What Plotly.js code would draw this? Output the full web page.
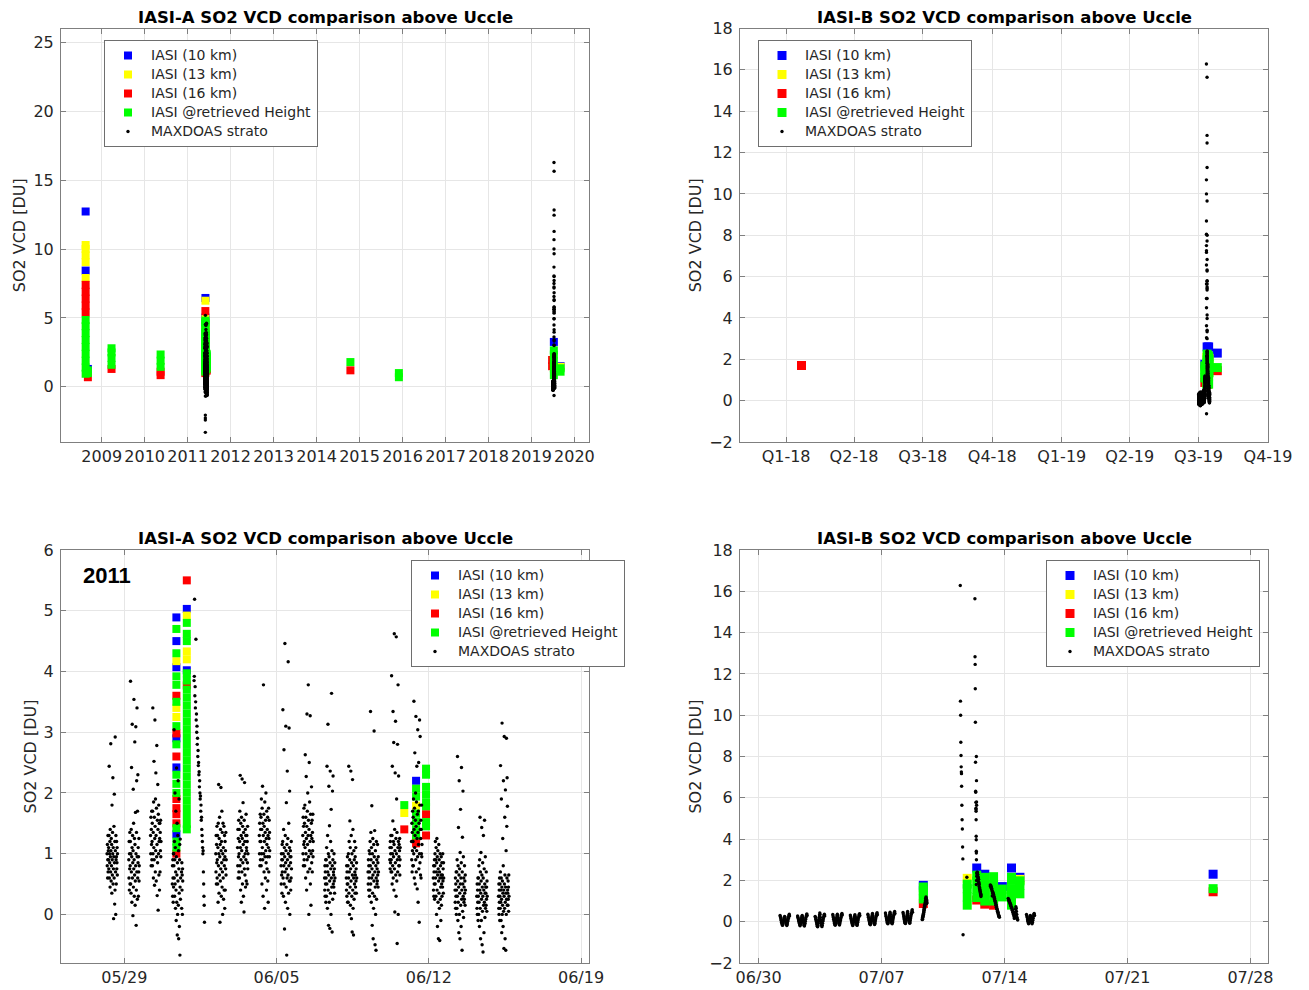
<!DOCTYPE html>
<html><head><meta charset="utf-8">
<script src="https://cdn.plot.ly/plotly-3.0.1.min.js"></script>
<style>html,body{margin:0;padding:0;background:#fff}#chart{width:1309px;height:990px}</style>
</head><body><div id="chart"></div>
<script>
// ================= DATA =================
const seriesNames = ['IASI (10 km)', 'IASI (13 km)', 'IASI (16 km)', 'IASI @retrieved Height', 'MAXDOAS strato'];
const titleA = 'IASI-A SO2 VCD comparison above Uccle';
const titleB = 'IASI-B SO2 VCD comparison above Uccle';
const yTitle = 'SO2 VCD [DU]';
const zoomYearLabel = '2011';

// x tick labels
const yearTicks = ['2009-01-01','2010-01-01','2011-01-01','2012-01-01','2013-01-01','2014-01-01','2015-01-01','2016-01-01','2017-01-01','2018-01-01','2019-01-01','2020-01-01'];
const yearLabels = ['2009','2010','2011','2012','2013','2014','2015','2016','2017','2018','2019','2020'];
const quarterTicks = ['2018-01-01','2018-04-01','2018-07-01','2018-10-01','2019-01-01','2019-04-01','2019-07-01','2019-10-01'];
const quarterLabels = ['Q1-18','Q2-18','Q3-18','Q4-18','Q1-19','Q2-19','Q3-19','Q4-19'];
const ticks2011 = ['2011-05-29','2011-06-05','2011-06-12','2011-06-19'];
const labels2011 = ['05/29','06/05','06/12','06/19'];
const ticks2019 = ['2019-06-30','2019-07-07','2019-07-14','2019-07-21','2019-07-28'];
const labels2019 = ['06/30','07/07','07/14','07/21','07/28'];

// IASI-A overpasses: [time, SO2 VCD values]
const iasiA_10km = [
  ['2008-08-17 09:30', [12.73, 8.44]],
  ['2008-09-05 09:30', [1.3]],
  ['2011-05-31 09:30', [4.89, 4.5, 4.07, 2.9, 2.42, 1.32]],
  ['2011-05-31 21:00', [5.03, 4.02]],
  ['2011-06-01 09:30', [6.45]],
  ['2011-06-11 10:00', [2.2]],
  ['2019-07-10 09:30', [3.26]],
  ['2019-09-05 09:30', [1.5]]
];
const iasiA_13km = [
  ['2008-08-17 09:30', [10.3, 10.0, 9.55, 9.05, 7.9]],
  ['2011-05-31 09:30', [4.17, 3.4, 3.25]],
  ['2011-05-31 21:00', [4.92, 4.33, 4.2]],
  ['2011-06-01 09:30', [6.25]],
  ['2011-06-10 21:00', [1.67]],
  ['2011-06-11 10:00', [1.79]],
  ['2019-09-05 09:30', [1.45]]
];
const iasiA_16km = [
  ['2008-08-17 09:30', [7.4, 6.9, 6.4, 5.9, 5.4]],
  ['2008-09-05 09:30', [0.7]],
  ['2009-03-25 09:30', [1.3]],
  ['2010-05-16 09:30', [0.85, 1.1]],
  ['2011-05-31 09:30', [3.6, 2.98, 2.6, 1.9, 1.75, 1.65, 1.5, 1.0]],
  ['2011-05-31 21:00', [5.5, 3.77]],
  ['2011-06-10 21:00', [1.4]],
  ['2011-06-11 10:00', [1.25, 1.17]],
  ['2011-06-11 21:00', [1.65, 1.3]],
  ['2014-10-15 09:30', [1.2]],
  ['2019-06-25 09:30', [1.5, 1.95]]
];
const iasiA_retrieved = [
  ['2008-08-17 09:30', [4.85, 4.4, 3.9, 3.4, 2.9, 2.4, 1.9, 1.4, 0.95]],
  ['2008-09-05 09:30', [1.2, 1.0]],
  ['2009-03-25 09:30', [1.6, 2.1, 2.5, 2.8]],
  ['2010-05-16 09:30', [1.45, 1.9, 2.35]],
  ['2011-05-31 09:30', [4.7, 4.3, 3.92, 3.78, 3.5, 3.1, 2.8, 2.3, 2.15, 2.0, 1.42, 1.2, 1.1]],
  ['2011-05-31 21:00', [4.8, 4.62, 4.5, 3.97, 3.85, 3.7, 3.57, 3.44, 3.31, 3.18, 3.05, 2.92, 2.79, 2.66, 2.53, 2.4, 2.27, 2.14, 2.01, 1.88, 1.75, 1.62, 1.49, 1.4]],
  ['2011-06-10 21:00', [1.8]],
  ['2011-06-11 10:00', [2.07, 1.94, 1.66, 1.53, 1.4, 1.3]],
  ['2011-06-11 21:00', [2.4, 2.3, 2.1, 1.97, 1.84, 1.78, 1.52, 1.45]],
  ['2014-10-15 09:30', [1.8]],
  ['2015-12-01 09:30', [0.7, 1.0]],
  ['2019-07-10 09:30', [2.65, 2.35, 1.85, 1.35, 0.85]],
  ['2019-09-05 09:30', [1.35, 1.1]]
];

// IASI-B overpasses
const iasiB_10km = [
  ['2019-07-09 09:00', [1.76]],
  ['2019-07-12 10:00', [2.6]],
  ['2019-07-12 21:00', [2.3]],
  ['2019-07-13 21:00', [1.7]],
  ['2019-07-14 09:30', [2.6]],
  ['2019-07-14 21:00', [2.15]],
  ['2019-07-25 21:00', [2.3]]
];
const iasiB_13km = [
  ['2019-07-11 21:00', [2.1]],
  ['2019-07-14 21:00', [2.05]]
];
const iasiB_16km = [
  ['2018-01-21 09:30', [1.7]],
  ['2019-07-09 09:00', [0.88]],
  ['2019-07-12 10:00', [1.05]],
  ['2019-07-12 21:00', [0.85]],
  ['2019-07-13 09:00', [0.8]],
  ['2019-07-25 21:00', [1.45]]
];
const iasiB_retrieved = [
  ['2019-07-09 09:00', [1.1, 1.3, 1.5, 1.68]],
  ['2019-07-11 21:00', [0.8, 1.2, 1.6, 1.82]],
  ['2019-07-12 10:00', [1.17, 1.57, 1.97, 2.25]],
  ['2019-07-12 21:00', [1.0, 1.4, 1.8, 2.15]],
  ['2019-07-13 09:00', [1.0, 1.4, 1.8, 2.18]],
  ['2019-07-13 21:00', [1.2, 1.58]],
  ['2019-07-14 09:30', [0.8, 1.2, 1.6, 2.0, 2.15]],
  ['2019-07-14 21:00', [1.35, 1.75, 1.98]],
  ['2019-07-25 21:00', [1.6]]
];

// MAXDOAS stratospheric SO2, 2011: one list of readings per day (measured between the given UTC hours)
const doas2011Days = ['2011-05-28','2011-05-29','2011-05-30','2011-05-31','2011-06-01','2011-06-02','2011-06-03','2011-06-04','2011-06-05','2011-06-06','2011-06-07','2011-06-08','2011-06-09','2011-06-10','2011-06-11','2011-06-12','2011-06-13','2011-06-14','2011-06-15'];
const doas2011Start = [5,5,5,5,5,5,5,5,5,5,5,5,5,5,5,5,5,5,5];
const doas2011End = [16.5,16.5,16.5,16.5,16.5,16.5,16.5,16.5,16.5,16.5,16.5,16.5,16.5,16.5,16.5,16.5,16.5,16.5,16.5];
const doas2011Values = [
  [1.0,0.8,1.15,0.6,0.9,1.3,0.7,1.05,0.9,1.1,0.75,1.3,2.44,0.6,1.0,0.85,1.2,0.45,1.4,0.95,0.7,2.81,1.05,0.55,1.25,0.8,1.15,0.35,1.8,0.9,0.65,1.35,1.0,2.25,0.5,1.1,0.75,-0.07,0.95,1.45,0.6,1.98,0.85,0.17,1.2,0.4,2.92,1.05,0.7,0.0,1.3,0.9,0.5,0.95,1.2,0.75,0.85,1.1,0.65,1.0],
  [0.9,0.6,1.2,0.4,1.0,0.75,1.35,0.5,0.8,1.2,3.84,0.5,1.0,0.35,1.4,0.7,2.42,0.95,0.2,1.1,3.13,0.6,1.3,0.85,-0.02,1.05,2.06,0.45,1.5,0.75,3.54,0.9,0.3,1.25,0.65,2.84,1.15,0.15,0.55,1.68,0.8,3.09,1.0,-0.18,0.4,1.35,2.2,0.7,3.4,0.95,0.25,1.7,0.6,2.3,0.85,1.1,0.3,0.95,0.7,1.25,0.55,0.8],
  [1.3,1.0,1.6,0.8,1.4,1.15,1.7,0.9,1.2,1.5,0.8,1.7,3.4,1.0,1.35,0.6,1.85,1.1,2.52,0.9,1.6,0.48,1.25,3.2,1.45,0.7,1.9,1.05,2.33,1.3,0.55,1.75,0.95,2.78,1.15,0.31,1.55,0.85,2.14,1.4,0.07,1.65,1.0,1.8,0.65,1.2,1.5,0.4,1.25,1.5,0.7,1.35,1.05,1.55,0.95,1.2],
  [0.5,0.8,0.3,0.9,0.6,0.2,1.0,0.45,1.0,0.8,3.04,0.6,1.2,0.3,0.9,2.0,0.5,1.1,0.1,0.7,1.7,0.4,-0.1,0.95,2.41,0.2,0.65,1.5,-0.34,0.85,0.0,1.3,0.55,2.2,0.15,1.05,-0.4,0.75,1.9,0.35,-0.2,0.9,1.15,-0.67,0.45,1.24,0.25,0.6,-2.05,-2.25,-2.4,-3.3,0.7,0.1,0.85,0.4,0.65,0.0,0.75,0.55],
  [3.85,3.92,5.19,3.6,3.75,3.4,3.5,4.53,3.2,3.3,3.0,3.1,2.8,2.9,2.6,2.7,2.45,2.5,2.3,2.35,2.1,2.2,2.0,1.9,1.95,1.7,1.8,1.55,1.6,1.4,1.3,1.2,1.1,1.0,1.05,0.7,0.5,0.3,0.15,-0.13],
  [1.0,0.7,1.3,0.5,1.15,0.85,1.45,0.6,0.9,1.3,0.5,1.1,0.2,1.5,0.8,2.14,1.0,0.35,1.25,0.65,1.6,0.95,-0.13,1.15,0.55,1.4,0.75,2.09,1.05,0.3,1.2,0.85,1.7,0.45,1.35,0.7,0.0,1.0,1.5,0.6,1.1,0.25,0.9,1.45,0.4,0.8,1.3,0.1,0.95,1.2,0.4,1.05,0.75,1.35,0.65,0.9],
  [1.1,0.8,1.4,0.6,1.25,0.95,1.55,0.7,1.0,1.4,0.6,1.2,1.7,0.8,2.29,1.1,0.4,1.5,0.9,1.3,0.2,1.6,1.05,0.7,2.23,1.25,0.5,1.45,0.85,1.84,1.15,0.3,1.35,0.95,0.04,1.55,0.75,2.17,1.2,0.65,1.0,1.4,0.45,1.3,0.9,1.65,0.55,1.1,1.05,1.3,0.5,1.2,0.85,1.45,0.75,1.0],
  [1.3,1.0,1.5,0.8,1.2,1.65,0.9,1.4,1.2,1.6,0.8,1.9,1.0,1.4,0.5,1.75,1.1,2.11,0.9,1.5,0.3,1.3,3.78,1.0,1.65,0.7,1.45,1.2,0.1,1.85,0.95,1.35,0.6,1.55,1.05,2.0,0.85,1.25,0.4,1.7,1.15,0.75,1.4,0.95,1.6,0.55,1.3,0.2,1.1,1.75,0.7,1.25,1.55,0.95,1.35,1.05],
  [0.8,0.5,1.0,0.65,0.9,0.35,1.15,0.7,0.9,1.2,3.37,0.6,1.0,0.3,1.4,0.8,2.71,0.5,1.1,-0.24,0.95,4.46,0.7,1.3,0.2,0.85,3.1,1.05,0.45,1.84,0.75,-0.67,1.15,0.6,2.36,0.9,0.1,1.25,0.65,4.16,1.0,0.35,1.5,0.8,3.07,0.55,1.1,2.03,0.0,0.95,0.55,1.05,0.85,0.4,0.95,0.6,1.2,0.75],
  [1.3,1.0,1.6,0.8,1.45,1.15,1.75,0.9,1.2,1.5,0.8,1.8,1.1,2.63,1.35,0.6,1.6,1.0,2.27,1.25,0.4,1.45,3.3,0.9,1.7,1.15,2.0,0.7,1.3,3.78,1.55,0.95,0.0,1.4,2.5,1.05,1.85,0.75,1.2,3.27,0.5,1.65,1.3,0.15,1.0,1.5,2.1,0.85,1.25,1.55,0.7,1.35,1.05,1.65,0.95,1.2],
  [0.6,0.4,0.8,0.3,0.7,0.5,0.9,0.2,0.6,0.9,0.3,1.1,0.5,2.44,0.8,0.1,1.3,0.7,3.13,0.4,1.0,-0.18,0.65,2.11,0.95,0.2,1.46,0.55,-0.23,0.85,2.36,0.35,1.2,0.75,0.0,1.73,0.6,3.64,0.45,1.05,-0.29,0.8,2.03,0.25,0.9,2.28,0.5,0.7,0.65,0.45,1.0,0.55,0.75,0.35,0.85,0.6],
  [0.6,0.4,0.8,0.3,0.7,0.5,0.95,0.2,0.5,0.8,0.2,1.0,0.6,2.44,0.35,1.2,0.7,0.0,0.9,1.54,0.45,1.1,0.15,0.75,2.36,0.55,1.3,-0.07,0.85,0.3,1.0,-0.29,0.65,2.22,0.4,1.4,0.1,0.8,-0.34,0.6,1.05,0.25,0.9,0.5,1.2,0.7,0.35,0.95,0.65,0.45,1.1,0.55,0.75,0.35,0.85,0.6],
  [0.7,0.5,0.9,0.4,0.8,0.6,1.05,0.3,0.7,1.0,0.4,1.2,0.8,3.34,0.5,1.35,0.9,0.2,1.1,0.6,1.79,0.75,-0.18,1.0,0.35,1.25,0.65,-0.4,0.85,0.1,1.15,0.55,3.02,0.95,0.3,1.38,0.7,-0.5,0.45,1.05,0.0,0.8,-0.59,0.6,1.2,0.25,0.9,0.5,0.75,0.55,1.15,0.65,0.85,0.45,0.95,0.7],
  [0.9,1.1,0.75,1.2,0.85,1.0,1.3,0.7,0.9,1.1,3.93,0.7,1.3,0.5,2.44,1.0,0.8,1.54,3.34,0.6,1.2,0.95,2.83,0.4,1.15,4.62,0.75,1.4,0.04,1.05,2.33,0.85,3.18,0.65,1.25,0.3,4.57,1.0,1.9,0.55,1.35,-0.48,0.9,2.8,0.7,1.1,3.78,0.0,1.2,2.28,0.8,0.95,1.15,0.8,1.05,1.25,0.65,0.9,1.1],
  [1.2,0.9,1.5,0.7,1.35,1.05,1.7,0.8,1.2,1.6,0.8,1.9,1.0,3.51,1.4,0.6,1.75,1.1,2.66,1.3,0.5,1.55,2.0,0.9,3.26,1.45,0.7,1.85,1.05,2.44,1.25,0.42,1.65,0.95,3.04,1.35,0.2,1.7,1.15,2.5,0.75,1.5,-0.13,1.0,3.2,1.8,0.85,2.93,1.4,0.65,1.25,1.55,0.6,1.4,1.0,1.8,0.95,1.15],
  [0.6,0.4,0.8,0.3,0.7,0.5,0.9,0.25,0.8,1.0,0.5,1.2,0.6,0.9,0.3,1.1,0.7,0.0,0.85,1.25,0.4,0.95,-0.2,0.65,1.05,0.2,0.75,-0.4,0.55,1.15,0.35,0.9,0.1,0.7,-0.43,0.6,1.0,0.25,0.8,0.45,-0.1,0.65,0.95,0.15,0.5,0.85,0.3,0.6,0.65,0.45,1.0,0.55,0.75,0.35,0.85,0.6],
  [0.4,0.2,0.6,0.1,0.5,0.3,0.7,0.0,0.4,0.7,0.1,0.9,0.3,2.6,0.55,-0.1,0.8,0.2,1.43,0.45,-0.3,0.65,2.2,0.0,0.75,0.35,-0.4,1.02,0.5,1.73,0.15,0.6,-0.2,0.85,2.42,0.25,0.4,-0.59,0.7,1.27,0.05,0.5,2.03,0.3,0.95,-0.05,0.6,0.2,0.45,0.25,0.8,0.35,0.55,0.15,0.65,0.4],
  [0.3,0.1,0.5,0.0,0.4,0.2,0.6,-0.1,0.3,0.6,0.0,0.8,0.2,0.5,-0.2,0.9,0.4,1.6,0.1,0.7,-0.4,0.35,1.02,0.55,-0.1,0.25,1.43,0.65,-0.5,0.45,0.05,0.85,0.3,-0.62,0.6,1.3,0.15,0.4,-0.3,0.75,0.2,1.55,0.5,-0.05,0.35,0.95,0.1,0.45,0.35,0.15,0.7,0.25,0.45,0.05,0.55,0.3],
  [0.3,0.1,0.5,0.0,0.4,0.2,0.6,-0.1,0.3,0.5,0.1,0.7,2.45,0.2,0.4,-0.1,0.6,1.9,0.25,-0.3,0.45,3.15,0.0,0.55,0.15,1.25,0.35,-0.2,0.8,2.2,0.05,0.4,-0.56,0.3,2.93,0.5,0.1,1.6,0.65,-0.4,0.2,2.05,0.45,-0.59,0.35,1.05,0.0,2.9,0.25,1.45,0.6,2.25,0.15,1.78,0.4,0.35,0.15,0.55,0.25,0.45,0.05,0.65,0.3]
];

// MAXDOAS stratospheric SO2, July 2019 (regular days)
const doas2019Days = ['2019-07-01','2019-07-02','2019-07-03','2019-07-04','2019-07-05','2019-07-06','2019-07-07','2019-07-08','2019-07-09','2019-07-12','2019-07-13','2019-07-14','2019-07-15'];
const doas2019Start = [5.25,5.25,5.25,5.25,5.25,5.25,5.25,5.25,7.5,9.5,4.5,5,6];
const doas2019End = [18.25,18.25,18.25,18.25,18.25,18.25,18.25,18.25,14,16,17,18,17];
const doas2019Values = [
  [0.3,0.24,0.18,0.1,0.05,-0.03,-0.08,-0.14,-0.18,-0.12,-0.05,0.02,0.1,0.16,0.22,0.26,0.2,0.12,0.06,-0.02,-0.08,-0.15,-0.19,-0.13,-0.06,0.02,0.1,0.17,0.24,0.3,0.36,0.28],
  [0.28,0.22,0.15,0.08,0.02,-0.05,-0.1,-0.16,-0.2,-0.14,-0.06,0.03,0.11,0.18,0.25,0.3,0.22,0.14,0.06,-0.03,-0.1,-0.17,-0.21,-0.15,-0.07,0.02,0.12,0.2,0.27,0.33,0.38,0.3],
  [0.26,0.2,0.12,0.05,-0.02,-0.1,-0.16,-0.22,-0.25,-0.18,-0.08,0.02,0.12,0.22,0.32,0.42,0.35,0.2,0.08,-0.02,-0.1,-0.18,-0.24,-0.17,-0.08,0.02,0.1,0.18,0.26,0.32,0.36,0.28],
  [0.35,0.28,0.2,0.12,0.05,-0.02,-0.08,-0.13,-0.17,-0.1,-0.02,0.07,0.15,0.22,0.3,0.36,0.28,0.18,0.08,0.0,-0.07,-0.13,-0.16,-0.1,-0.02,0.06,0.14,0.22,0.3,0.36,0.4,0.32],
  [0.32,0.25,0.17,0.1,0.03,-0.04,-0.1,-0.16,-0.19,-0.12,-0.04,0.05,0.13,0.2,0.28,0.34,0.26,0.17,0.08,-0.01,-0.08,-0.15,-0.18,-0.11,-0.03,0.06,0.14,0.22,0.29,0.35,0.39,0.3],
  [0.36,0.29,0.21,0.13,0.06,-0.01,-0.07,-0.12,-0.15,-0.08,0.0,0.09,0.17,0.25,0.33,0.4,0.31,0.21,0.11,0.02,-0.05,-0.11,-0.14,-0.07,0.01,0.1,0.18,0.26,0.33,0.39,0.43,0.34],
  [0.42,0.34,0.26,0.18,0.1,0.03,-0.03,-0.08,-0.1,-0.04,0.04,0.13,0.21,0.3,0.38,0.46,0.36,0.25,0.15,0.06,-0.01,-0.07,-0.1,-0.03,0.05,0.14,0.23,0.31,0.39,0.45,0.5,0.4],
  [0.45,0.37,0.28,0.19,0.11,0.03,-0.03,-0.07,-0.09,-0.02,0.06,0.15,0.24,0.33,0.42,0.5,0.4,0.28,0.17,0.07,0.0,-0.05,-0.08,-0.01,0.08,0.18,0.27,0.36,0.44,0.52,0.58,0.46],
  [0.1,0.18,0.12,0.25,0.2,0.32,0.28,0.4,0.35,0.5,0.45,0.6,0.55,0.7,0.65,0.8,0.75,0.9,0.85,1.0,0.95,1.12,1.05,1.2,1.15,0.98,1.08,0.88,1.02,0.92],
  [1.8,2.0,2.2,2.35,2.4,2.3,2.38,2.2,2.28,2.1,2.15,1.95,2.05,1.85,1.9,1.7,1.8,1.6,1.65,1.5,1.55,1.4,1.45,1.3,1.35,1.22,1.29],
  [1.78,1.72,1.75,1.65,1.68,1.58,1.6,1.5,1.25,1.45,1.38,1.4,1.3,1.32,1.2,1.22,1.1,1.12,1.0,1.02,0.9,0.92,0.8,0.82,0.7,0.72,0.6,0.62,0.5,0.52,0.42,0.45,0.35,0.3,0.25,0.28,0.21],
  [1.13,1.05,1.08,0.98,1.0,0.9,0.92,0.82,0.85,0.75,0.73,0.65,0.68,0.55,0.58,0.45,0.48,0.35,0.38,0.25,0.16,0.2,0.3,0.45,0.6,0.73,0.65,0.5,0.35,0.2,0.12,0.08],
  [0.35,0.28,0.2,0.1,0.02,-0.05,-0.1,-0.04,0.05,0.15,0.25,0.3,0.22,0.12,0.02,-0.06,-0.1,-0.03,0.07,0.17,0.27,0.36,0.4,0.3]
];
// MAXDOAS 2019 isolated high readings (plume event)
const doas2019SpikeTime = ['2019-07-11 11:30','2019-07-11 11:45','2019-07-11 12:00','2019-07-11 12:15','2019-07-11 12:30','2019-07-11 12:45','2019-07-11 13:00','2019-07-11 13:10','2019-07-11 13:20','2019-07-11 13:40','2019-07-11 14:00','2019-07-11 14:20','2019-07-11 14:40','2019-07-11 15:00','2019-07-11 15:20','2019-07-11 20:30',
  '2019-07-12 07:30','2019-07-12 07:40','2019-07-12 07:50','2019-07-12 08:00','2019-07-12 08:10','2019-07-12 09:30','2019-07-12 08:20','2019-07-12 09:40','2019-07-12 08:30','2019-07-12 08:35','2019-07-12 09:45','2019-07-12 08:45','2019-07-12 09:50','2019-07-12 08:55','2019-07-12 09:00','2019-07-12 09:05','2019-07-12 09:10','2019-07-12 09:15','2019-07-12 09:20','2019-07-12 09:25','2019-07-12 09:30','2019-07-12 09:35'];
const doas2019SpikeValue = [16.28,10.68,10.0,8.69,8.05,7.5,7.25,7.17,6.56,5.64,4.94,4.49,3.62,3.04,-0.63,2.15,
  15.64,12.83,12.46,11.28,9.66,8.0,7.72,6.83,6.32,6.27,5.8,5.78,5.64,5.5,5.43,5.35,4.94,4.14,3.97,3.41,3.33,3.0];

// ================= BUILD =================
function iasiXY(groups) {
  const x = [], y = [];
  groups.forEach(([t, vals]) => vals.forEach(v => { x.push(t); y.push(v); }));
  return {x, y};
}
function stamp(day, hour) {
  const ms = Date.parse(day + 'T00:00:00Z') + hour * 3600e3;
  return new Date(ms).toISOString().slice(0, 19).replace('T', ' ');
}
function doasXY(days, starts, ends, values) {
  const x = [], y = [];
  days.forEach((d, i) => {
    const vals = values[i], n = vals.length;
    vals.forEach((v, j) => {
      x.push(stamp(d, starts[i] + (ends[i] - starts[i]) * j / (n - 1)));
      y.push(v);
    });
  });
  return {x, y};
}
const d2011 = doasXY(doas2011Days, doas2011Start, doas2011End, doas2011Values);
const d2019r = doasXY(doas2019Days, doas2019Start, doas2019End, doas2019Values);
const d2019 = {x: d2019r.x.concat(doas2019SpikeTime), y: d2019r.y.concat(doas2019SpikeValue)};
const dAll = {x: d2011.x.concat(d2019.x), y: d2011.y.concat(d2019.y)};

const colors = ['#0000ff', '#ffff00', '#ff0000', '#00ff00', '#000000'];
const panels = [
  {xa: 'x',  ya: 'y',  lg: 'legend',  iasi: [iasiA_10km, iasiA_13km, iasiA_16km, iasiA_retrieved], doas: dAll,  ms: 8},
  {xa: 'x2', ya: 'y2', lg: 'legend2', iasi: [iasiB_10km, iasiB_13km, iasiB_16km, iasiB_retrieved], doas: d2019, ms: 9},
  {xa: 'x3', ya: 'y3', lg: 'legend3', iasi: [iasiA_10km, iasiA_13km, iasiA_16km, iasiA_retrieved], doas: d2011, ms: 8},
  {xa: 'x4', ya: 'y4', lg: 'legend4', iasi: [iasiB_10km, iasiB_13km, iasiB_16km, iasiB_retrieved], doas: d2019, ms: 9}
];
// legend entry text drawn at 14px while the row pitch follows the (smaller) legend font size
const legendLabel = s => '<span style="font-size:14px">' + s + '</span>';
const traces = [];
panels.forEach(p => {
  p.iasi.forEach((g, k) => {
    const xy = iasiXY(g);
    traces.push({type: 'scatter', mode: 'markers', x: xy.x, y: xy.y, xaxis: p.xa, yaxis: p.ya, legend: p.lg,
      name: legendLabel(seriesNames[k]), marker: {symbol: 'square', size: p.ms, color: colors[k], line: {width: 0}}, hoverinfo: 'skip'});
  });
  traces.push({type: 'scatter', mode: 'markers', x: p.doas.x, y: p.doas.y, xaxis: p.xa, yaxis: p.ya, legend: p.lg,
    name: legendLabel(seriesNames[4]), marker: {symbol: 'circle', size: 3.4, color: colors[4], line: {width: 0}}, hoverinfo: 'skip'});
});

const W = 1309, H = 990;
const fam = 'DejaVu Sans, Verdana, sans-serif';
const px = v => v / W, py = v => 1 - v / H;
const axBase = {
  showline: true, linecolor: '#7f7f7f', linewidth: 1, mirror: 'ticks',
  ticks: 'inside', ticklen: 5, tickcolor: '#7f7f7f', tickwidth: 1,
  showgrid: true, gridcolor: '#e6e6e6', gridwidth: 1, zeroline: false,
  tickfont: {family: fam, size: 16, color: '#262626'}, fixedrange: true, automargin: false
};
const yAxBase = Object.assign({}, axBase, {ticklabelstandoff: 3});
const yTitleObj = {text: yTitle, font: {family: fam, size: 16, color: '#262626'}, standoff: 3};
const xL = [px(61), px(589)], xR = [px(740), px(1268)];
const yT = [py(442), py(28.5)], yB = [py(963), py(550)];
const legBase = {bgcolor: '#ffffff', bordercolor: '#6e6e6e', borderwidth: 1, itemwidth: 36,
  font: {family: fam, size: 12, color: '#262626'}, xanchor: 'left', yanchor: 'top', tracegroupgap: 0};

const layout = {
  width: W, height: H, margin: {l: 0, r: 0, t: 0, b: 0},
  paper_bgcolor: '#ffffff', plot_bgcolor: '#ffffff', showlegend: true,
  xaxis:  Object.assign({}, axBase, {domain: xL, anchor: 'y',  type: 'date', range: ['2008-01-21', '2020-05-04'], tickmode: 'array', tickvals: yearTicks, ticktext: yearLabels}),
  yaxis:  Object.assign({}, yAxBase, {domain: yT, anchor: 'x',  range: [-4, 26], dtick: 5, tick0: 0, title: yTitleObj}),
  xaxis2: Object.assign({}, axBase, {domain: xR, anchor: 'y2', type: 'date', range: ['2017-11-01', '2019-10-01'], tickmode: 'array', tickvals: quarterTicks, ticktext: quarterLabels}),
  yaxis2: Object.assign({}, yAxBase, {domain: yT, anchor: 'x2', range: [-2, 18], dtick: 2, tick0: 0, title: yTitleObj}),
  xaxis3: Object.assign({}, axBase, {domain: xL, anchor: 'y3', type: 'date', range: ['2011-05-26 02:10', '2011-06-19 08:50'], tickmode: 'array', tickvals: ticks2011, ticktext: labels2011}),
  yaxis3: Object.assign({}, yAxBase, {domain: yB, anchor: 'x3', range: [-0.8, 6], dtick: 1, tick0: 0, title: yTitleObj}),
  xaxis4: Object.assign({}, axBase, {domain: xR, anchor: 'y4', type: 'date', range: ['2019-06-28 22:30', '2019-07-29 00:00'], tickmode: 'array', tickvals: ticks2019, ticktext: labels2019}),
  yaxis4: Object.assign({}, yAxBase, {domain: yB, anchor: 'x4', range: [-2, 18], dtick: 2, tick0: 0, title: yTitleObj}),
  legend:  Object.assign({}, legBase, {x: px(104), y: py(40)}),
  legend2: Object.assign({}, legBase, {x: px(758), y: py(40)}),
  legend3: Object.assign({}, legBase, {x: px(411), y: py(560)}),
  legend4: Object.assign({}, legBase, {x: px(1046), y: py(560)}),
  annotations: [
    {text: '<b>' + titleA + '</b>', x: px(325), y: py(17.5), xref: 'paper', yref: 'paper', xanchor: 'center', yanchor: 'middle', showarrow: false, font: {family: fam, size: 16.5, color: '#000000'}},
    {text: '<b>' + titleB + '</b>', x: px(1004), y: py(17.5), xref: 'paper', yref: 'paper', xanchor: 'center', yanchor: 'middle', showarrow: false, font: {family: fam, size: 16.5, color: '#000000'}},
    {text: '<b>' + titleA + '</b>', x: px(325), y: py(538), xref: 'paper', yref: 'paper', xanchor: 'center', yanchor: 'middle', showarrow: false, font: {family: fam, size: 16.5, color: '#000000'}},
    {text: '<b>' + titleB + '</b>', x: px(1004), y: py(538), xref: 'paper', yref: 'paper', xanchor: 'center', yanchor: 'middle', showarrow: false, font: {family: fam, size: 16.5, color: '#000000'}},
    {text: '<b>' + zoomYearLabel + '</b>', x: px(81), y: py(575), xref: 'paper', yref: 'paper', xanchor: 'left', yanchor: 'middle', showarrow: false, font: {family: 'Liberation Sans, Arial, sans-serif', size: 22, color: '#000000'}}
  ]
};
Plotly.newPlot('chart', traces, layout, {displayModeBar: false, staticPlot: true});
</script>
</body></html>
